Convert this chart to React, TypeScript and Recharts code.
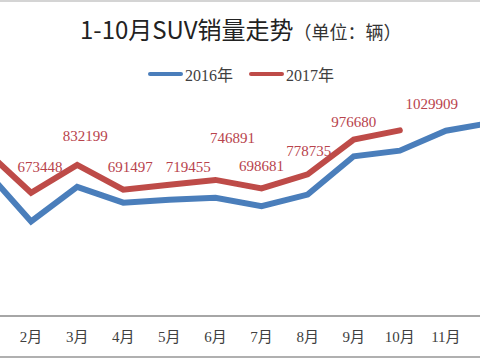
import React from "react";
import { LineChart, Line, XAxis, YAxis, LabelList } from "recharts";

// monthly SUV sales, units
const MONTHS = ["1月", "2月", "3月", "4月", "5月", "6月", "7月", "8月", "9月", "10月", "11月", "12月"];
const SALES_2016 = [805000, 510000, 707000, 617000, 634000, 645000, 597000, 663000, 882000, 914000, 1028000, 1074000];
const SALES_2017 = [918700, 673448, 832199, 691497, 719455, 746891, 698681, 778735, 976680, 1029909, null, null];

// hand-placed data label nudges (px from the point), like the original sheet
const LABEL_DX = [-5, 9, 8, 7, 19, 17, 0, 1, 0, 32];
const LABEL_DY = [-54, -26, -29, -23, -18, -42, -22, -23, -18, -26];

const BLUE = "#4a7ebb";
const RED = "#be4b48";
const SERIF = '"Liberation Serif", "Times New Roman", "Noto Sans CJK SC", serif';

const SERIES = [
  { key: "y2016", name: "2016年", color: BLUE },
  { key: "y2017", name: "2017年", color: RED },
];

const data = MONTHS.map((month, i) => ({
  month,
  y2016: SALES_2016[i],
  y2017: SALES_2017[i],
}));

// the picture is cropped: January and December sit outside the frame
const inFrame = (i: number) => i > 0 && i < MONTHS.length - 1;

const RedLabel = (props: any) => {
  const { x, y, value, index } = props;
  if (value == null || !inFrame(index)) return null;
  return (
    <text
      x={x + (LABEL_DX[index] || 0)}
      y={y + (LABEL_DY[index] || -24)}
      textAnchor="middle"
      dominantBaseline="central"
      fill="#b8434c"
      fontSize={15}
      fontFamily={SERIF}
    >
      {value}
    </text>
  );
};

const MonthTick = (props: any) => {
  const { x, y, payload, index } = props;
  if (!inFrame(index)) return null;
  return (
    <text x={x} y={y} dy="0.71em" textAnchor="middle" fill="#404040" fontSize={15} fontFamily={SERIF}>
      {payload.value}
    </text>
  );
};

export default function App() {
  return (
    <div
      style={{
        position: "fixed",
        left: 0,
        top: 0,
        width: 480,
        height: 360,
        overflow: "hidden",
        background: "#fff",
      }}
    >
      <div style={{ position: "absolute", left: 0, top: 0, width: 480, height: 2, background: "#d4d4d4" }} />
      <div style={{ position: "absolute", left: 0, top: 356, width: 480, height: 2, background: "#b0b0b0" }} />

      <div
        style={{
          position: "absolute",
          left: 80,
          top: 17,
          whiteSpace: "nowrap",
          fontFamily: '"Noto Sans CJK SC", sans-serif',
          color: "#222",
          lineHeight: 1,
        }}
      >
        <span style={{ fontSize: 24 }}>1-10月SUV销量走势</span>
        <span style={{ fontSize: 18, color: "#333" }}>（单位：辆）</span>
      </div>

      <div
        style={{
          position: "absolute",
          left: 148,
          top: 62,
          display: "flex",
          alignItems: "center",
          fontFamily: SERIF,
          fontSize: 16,
          color: "#404040",
          whiteSpace: "nowrap",
        }}
      >
        {SERIES.map((s, i) => (
          <div key={s.key} style={{ display: "flex", alignItems: "center", marginLeft: i ? 16 : 0 }}>
            <span style={{ width: 35, height: 4, borderRadius: 2, background: s.color, marginRight: 2 }} />
            <span>{s.name}</span>
          </div>
        ))}
      </div>

      <div style={{ position: "absolute", left: -60, top: 0 }}>
        <LineChart width={600} height={360} data={data} margin={{ top: 48, right: 25, bottom: 0, left: 22 }}>
          <XAxis
            dataKey="month"
            interval={0}
            padding={{ left: 23, right: 23 }}
            height={44}
            axisLine={{ stroke: "#a6a6a6", strokeWidth: 2 }}
            tickLine={false}
            tickMargin={9}
            tick={<MonthTick />}
          />
          <YAxis hide domain={[-30000, 1500000]} />
          <Line
            dataKey="y2016"
            name="2016年"
            stroke={BLUE}
            strokeWidth={6}
            strokeLinecap="round"
            dot={false}
            isAnimationActive={false}
          />
          <Line
            dataKey="y2017"
            name="2017年"
            stroke={RED}
            strokeWidth={6}
            strokeLinecap="round"
            dot={false}
            isAnimationActive={false}
          >
            <LabelList dataKey="y2017" content={RedLabel} />
          </Line>
        </LineChart>
      </div>
    </div>
  );
}
